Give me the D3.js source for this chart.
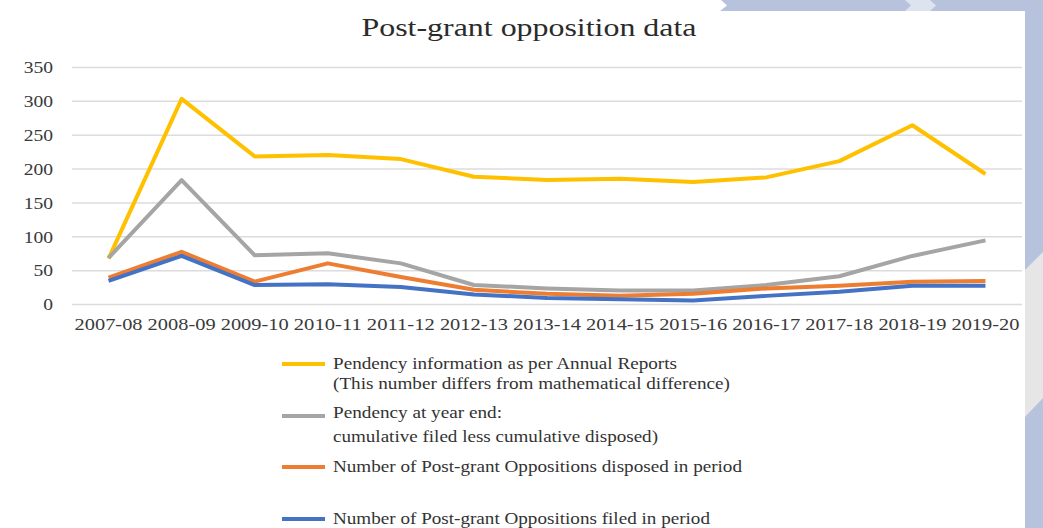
<!DOCTYPE html>
<html>
<head>
<meta charset="utf-8">
<script src="https://cdn.jsdelivr.net/npm/d3@7"></script>
<style>
  html, body { margin: 0; padding: 0; background: #ffffff; }
  svg { display: block; }
  svg text { font-family: "Liberation Serif", "Times New Roman", serif !important; }
</style>
</head>
<body>
<svg id="chart" width="1043" height="528"></svg>
<script>
// Financial years on the x axis
const years = ["2007-08", "2008-09", "2009-10", "2010-11", "2011-12", "2012-13", "2013-14",
               "2014-15", "2015-16", "2016-17", "2017-18", "2018-19", "2019-20"];

// Pendency information as per Annual Reports
const pendencyReported = [67, 303, 218, 220, 214, 188, 183, 185, 180, 187, 211, 264, 192];
// Pendency at year end (cumulative filed less cumulative disposed)
const pendencyComputed = [68, 183, 72, 75, 60, 28, 23, 20, 20, 28, 41, 71, 94];
// Post-grant oppositions disposed in period
const disposed = [39, 77, 33, 60, 40, 21, 15, 12, 15, 23, 27, 33, 34];
// Post-grant oppositions filed in period
const filed = [34, 71, 28, 29, 25, 14, 9, 7, 5, 12, 18, 27, 27];

const yTicks = [0, 50, 100, 150, 200, 250, 300, 350];

const series = [
  { values: pendencyReported, color: "#FFC000",
    label: ["Pendency information as per Annual Reports",
            "(This number differs from mathematical difference)"] },
  { values: pendencyComputed, color: "#A5A5A5",
    label: ["Pendency at year end:",
            "cumulative filed less cumulative disposed)"] },
  { values: disposed, color: "#ED7D31",
    label: ["Number of Post-grant Oppositions disposed in period"] },
  { values: filed, color: "#4472C4",
    label: ["Number of Post-grant Oppositions filed in period"] }
];

const svg = d3.select("#chart");
const W = 1043, H = 528;
const serif = "'Liberation Serif', 'Times New Roman', serif";

// Slide frame decoration around the white chart panel
const frameBlue = "#B7C3DC";
svg.append("rect").attr("x", 0).attr("y", 0).attr("width", W).attr("height", H).attr("fill", "#ffffff");
svg.append("polygon")
  .attr("points", "721,0 1043,0 1043,11 720,11 727,5.5")
  .attr("fill", frameBlue);
svg.append("polygon")
  .attr("points", "905,0 930,0 936,5.5 930,11 905,11 911,5.5")
  .attr("fill", "#DDE4F0");
svg.append("rect").attr("x", 1025).attr("y", 0).attr("width", 18).attr("height", H).attr("fill", frameBlue);
svg.append("polygon")
  .attr("points", "1025,270 1043,252 1043,398 1025,417")
  .attr("fill", "#E6E6E6");

// Stretch a text selection horizontally by a given factor
function stretch(sel, factor) {
  sel.each(function () {
    const w = this.getComputedTextLength();
    d3.select(this).attr("textLength", w * factor).attr("lengthAdjust", "spacingAndGlyphs");
  });
}

// Scales
const x = d3.scaleBand().domain(years).range([72, 1022]);
const y = d3.scaleLinear().domain([0, 350]).range([304, 67]);
const cx = d => x(d) + x.bandwidth() / 2;

// Title
svg.append("text")
  .attr("x", 529).attr("y", 36)
  .attr("text-anchor", "middle")
  .style("font-family", serif)
  .attr("font-size", 25)
  .attr("fill", "#2b2b2b")
  .attr("textLength", 335).attr("lengthAdjust", "spacingAndGlyphs")
  .text("Post-grant opposition data");

// Horizontal gridlines and value labels
const yAxis = d3.axisLeft(y).tickValues(yTicks).tickSize(-(1022 - 72)).tickPadding(19);
const gy = svg.append("g").attr("transform", "translate(72,0)").call(yAxis);
gy.attr("font-family", null);
gy.select(".domain").remove();
gy.selectAll(".tick line").attr("stroke", "#DCDCDC").attr("stroke-width", 1.5);
gy.selectAll(".tick text")
  .style("font-family", serif)
  .attr("font-size", 17)
  .attr("fill", "#3a3a3a")
  .attr("dy", "0.34em");
stretch(gy.selectAll(".tick text"), 1.15);

// Category labels
const xAxis = d3.axisBottom(x).tickSize(0).tickPadding(0);
const gx = svg.append("g").attr("transform", "translate(0,304)").call(xAxis);
gx.attr("font-family", null);
gx.select(".domain").remove();
gx.selectAll(".tick text")
  .style("font-family", serif)
  .attr("font-size", 17)
  .attr("fill", "#3a3a3a")
  .attr("y", 26).attr("dy", 0)
  .attr("textLength", 68).attr("lengthAdjust", "spacingAndGlyphs");

// Lines
const line = d3.line().x((d, i) => cx(years[i])).y(d => y(d));
series.forEach(s => {
  svg.append("path")
    .datum(s.values)
    .attr("fill", "none")
    .attr("stroke", s.color)
    .attr("stroke-width", 4)
    .attr("stroke-linejoin", "round")
    .attr("d", line);
});

// Legend
const legendRows = [
  { lineY: 364, textY: [369, 389], widths: [344, 397] },
  { lineY: 416, textY: [418, 442], widths: [169, 325] },
  { lineY: 467, textY: [472], widths: [409] },
  { lineY: 519, textY: [524], widths: [377] }
];
series.forEach((s, i) => {
  const r = legendRows[i];
  svg.append("line")
    .attr("x1", 282).attr("x2", 325)
    .attr("y1", r.lineY).attr("y2", r.lineY)
    .attr("stroke", s.color).attr("stroke-width", 4);
  s.label.forEach((t, j) => {
    svg.append("text")
      .attr("x", 333).attr("y", r.textY[j])
      .style("font-family", serif)
      .attr("font-size", 16.5)
      .attr("fill", "#333333")
      .attr("textLength", r.widths[j]).attr("lengthAdjust", "spacingAndGlyphs")
      .text(t);
  });
});
</script>
</body>
</html>
